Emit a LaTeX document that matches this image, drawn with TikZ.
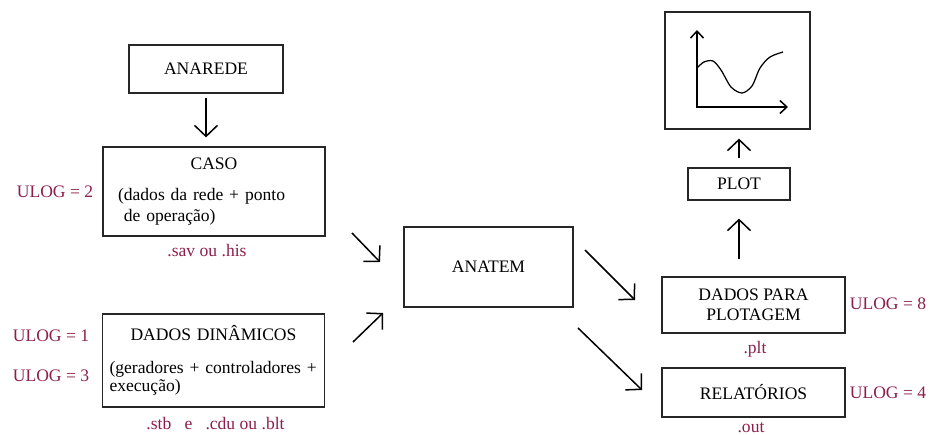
\documentclass[tikz,border=0pt]{standalone}
\usepackage{fontspec}
\setmainfont{Liberation Serif}
\usetikzlibrary{arrows.meta}
\definecolor{ulog}{RGB}{140,30,75}

\begin{document}
\begin{tikzpicture}[x=0.02cm,y=-0.02cm,>={Straight Barb[length=2.2mm,width=4.6mm]},
    font=\fontsize{10}{12}\selectfont,
    box/.style={draw=black!85,line width=0.25mm,inner sep=0pt},
    lbl/.style={text=ulog,inner sep=0pt},
    flow/.style={->,line width=0.3mm}]
    \useasboundingbox (0,0) rectangle (930,435);

    % left side
    \node [box,minimum width=30.8mm,minimum height=9.6mm] (rede) at (206,69) {ANAREDE};
    \node [box,text width=38.4mm,inner xsep=3mm,minimum height=17.8mm,align=left] (caso) at (214,191.5)
        {\makebox[\hsize]{CASO}\\[6pt](dados da rede + ponto\\\ de operação)};
    \node [box,text width=43.6mm,inner xsep=0.4mm,minimum height=18.6mm,align=left] (din) at (213.5,360.5)
        {\makebox[\hsize]{DADOS DINÂMICOS}\\[6.8pt]\mbox{\hspace{1mm}(geradores + controladores +}\\[-1.8pt]\hspace*{1mm}execução)};
    \node [lbl] (u2) at (55,192) {ULOG = 2};
    \node [lbl] (u1) at (51,336) {ULOG = 1};
    \node [lbl] (u3) at (51,376) {ULOG = 3};
    \node [lbl] (sav) at (207,251) {.sav ou .his};
    \node [lbl] (stb) at (215.5,424) {.stb\ \ \ e\ \ \ .cdu ou .blt};

    % middle
    \node [box,minimum width=33.8mm,minimum height=16mm] (anatem) at (488.5,267) {ANATEM};

    % right side
    \node [box,minimum width=29mm,minimum height=23.4mm] (graf) at (737.5,70.5) {};
    \node [box,minimum width=20.4mm,minimum height=6.4mm] (plot) at (739,184) {PLOT};
    \node [box,minimum width=36.6mm,minimum height=11.2mm,align=center] (dpl) at (753.5,305)
        {DADOS PARA\\[-0.6pt]PLOTAGEM};
    \node [box,minimum width=36.6mm,minimum height=9.8mm] (rel) at (753.5,392.5) {RELATÓRIOS};
    \node [lbl] (u8) at (888,304) {ULOG = 8};
    \node [lbl] (u4) at (888,393) {ULOG = 4};
    \node [lbl] (plt) at (755,349) {.plt};
    \node [lbl] (out) at (751,428) {.out};

    % little graph
    \draw [line width=0.3mm,{Straight Barb[length=1.4mm,width=2.6mm]}-{Straight Barb[length=1.4mm,width=2.6mm]}]
        (697,30) -- (697,107) -- (788,107);
    \draw [line width=0.25mm] plot [smooth] coordinates
        {(697,68) (704,62) (713,61) (721,70) (731,87) (742,93) (752,86) (760,68) (770,57) (783,52)};

    % arrows
    \coordinate (a1) at (352,233);
    \coordinate (a2) at (380,262);
    \coordinate (b1) at (353,342);
    \coordinate (b2) at (383,313);
    \coordinate (c1) at (585,250);
    \coordinate (c2) at (635,300);
    \coordinate (d1) at (578,328);
    \coordinate (d2) at (642,390);
    \draw [flow,shorten <=0.8mm,shorten >=1.8mm] (rede.south) -- (rede.south |- caso.north);
    \draw [flow] (a1) -- (a2);
    \draw [flow] (b1) -- (b2);
    \draw [flow] (c1) -- (c2);
    \draw [flow] (d1) -- (d2);
    \draw [flow,shorten <=3.4mm,shorten >=3.6mm] (plot.south |- dpl.north) -- (plot.south);
    \draw [flow,shorten <=1.8mm,shorten >=1.8mm] (plot.north) -- (plot.north |- graf.south);
\end{tikzpicture}
\end{document}
